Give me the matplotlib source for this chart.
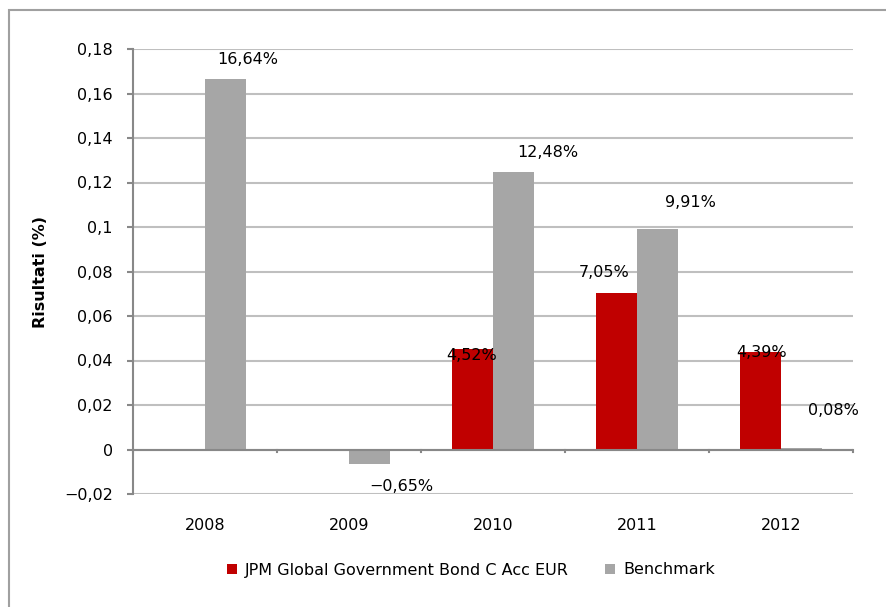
import numpy as np
import matplotlib
matplotlib.use("Agg")
import matplotlib.pyplot as plt
from matplotlib.patches import Rectangle
from matplotlib.ticker import FixedLocator, FixedFormatter

plt.rcParams['font.family'] = ['DejaVu Sans']

years = ["2008", "2009", "2010", "2011", "2012"]
jpm = [np.nan, np.nan, 0.0452, 0.0705, 0.0439]
bench = [0.1664, -0.0065, 0.1248, 0.0991, 0.0008]
jpm_labels = ["", "", "4,52%", "7,05%", "4,39%"]
bench_labels = ["16,64%", "\u22120,65%", "12,48%", "9,91%", "0,08%"]
ytick_vals = [-0.02, 0, 0.02, 0.04, 0.06, 0.08, 0.1, 0.12, 0.14, 0.16, 0.18]
ytick_text = ["\u22120,02", "0", "0,02", "0,04", "0,06", "0,08", "0,1", "0,12", "0,14", "0,16", "0,18"]
series_names = ["JPM Global Government Bond C Acc EUR", "Benchmark"]

# label offsets in pixels (dx, dy) - layout only
jpm_off = [(0, 0), (0, 0), (-1, -7), (-12, 20), (1, -1)]
bench_off = [(22, 20), (32, -23), (34, 19), (33, 27), (32, 37)]

FONT = "DejaVu Sans"
FS = 11.5

W, H = 887, 607
fig = plt.figure(figsize=(W / 100, H / 100), dpi=100)

# outer border (only top and left visible in the crop)
fig.patches.append(Rectangle((9 / W, -0.1), 1.2, 1.1 - 10 / H, transform=fig.transFigure,
                             fill=False, edgecolor="#A0A0A0", linewidth=1.5))

left, right, top, bottom = 133, 853, 49, 494
ax = fig.add_axes([left / W, 1 - bottom / H, (right - left) / W, (bottom - top) / H])

x = np.arange(len(years))
bw = 0.285
red = "#C00000"
grey = "#A6A6A6"
ax.bar(x - bw / 2, jpm, width=bw, color=red, label=series_names[0], zorder=3)
ax.bar(x + bw / 2, bench, width=bw, color=grey, label=series_names[1], zorder=3)

ax.set_xlim(-0.5, len(years) - 0.5)
ax.set_ylim(-0.02, 0.18)
ax.yaxis.set_major_locator(FixedLocator(ytick_vals))
ax.yaxis.set_major_formatter(FixedFormatter(ytick_text))
ax.grid(axis="y", color="#BFBFBF", linewidth=1.5, zorder=0)
ax.set_axisbelow(True)

for s in ["top", "right", "bottom"]:
    ax.spines[s].set_visible(False)
ax.spines["left"].set_color("#888888")
ax.spines["left"].set_linewidth(1.5)
ax.tick_params(axis="y", length=4.5, width=1.5, color="#888888", labelsize=FS, pad=10)
for lbl in ax.get_yticklabels():
    lbl.set_fontfamily(FONT)

# zero line with category ticks
ax.axhline(0, color="#888888", linewidth=1.5, zorder=4)
for b in np.arange(-0.5, len(years), 1.0):
    ax.plot([b, b], [0, -0.0013], color="#888888", linewidth=1.5, zorder=4, clip_on=False)

ax.set_xticks([])
for i, y in enumerate(years):
    ax.annotate(y, (x[i], -0.02), xytext=(0, -31), textcoords="offset pixels",
                ha="center", va="center", fontsize=FS, family=FONT)

ax.set_ylabel("Risultati (%)", fontsize=FS, fontweight="bold", family=FONT)
ax.yaxis.set_label_coords((48 - left) / (right - left), 0.5)

for i in range(len(years)):
    if jpm_labels[i]:
        ax.annotate(jpm_labels[i], (x[i] - bw / 2, jpm[i]), xytext=(jpm_off[i][0], jpm_off[i][1]),
                    textcoords="offset pixels", ha="center", va="center", fontsize=FS,
                    family=FONT, zorder=6)
    ax.annotate(bench_labels[i], (x[i] + bw / 2, bench[i]), xytext=(bench_off[i][0], bench_off[i][1]),
                textcoords="offset pixels", ha="center", va="center", fontsize=FS,
                family=FONT, zorder=6)

leg = fig.legend(loc="center", bbox_to_anchor=(471 / W, 1 - 570 / H), ncol=2, frameon=False,
                 prop={"family": FONT, "size": FS}, handlelength=0.6, handleheight=0.6,
                 handletextpad=0.5, columnspacing=2.3)

fig.savefig("out.png", dpi=100)
